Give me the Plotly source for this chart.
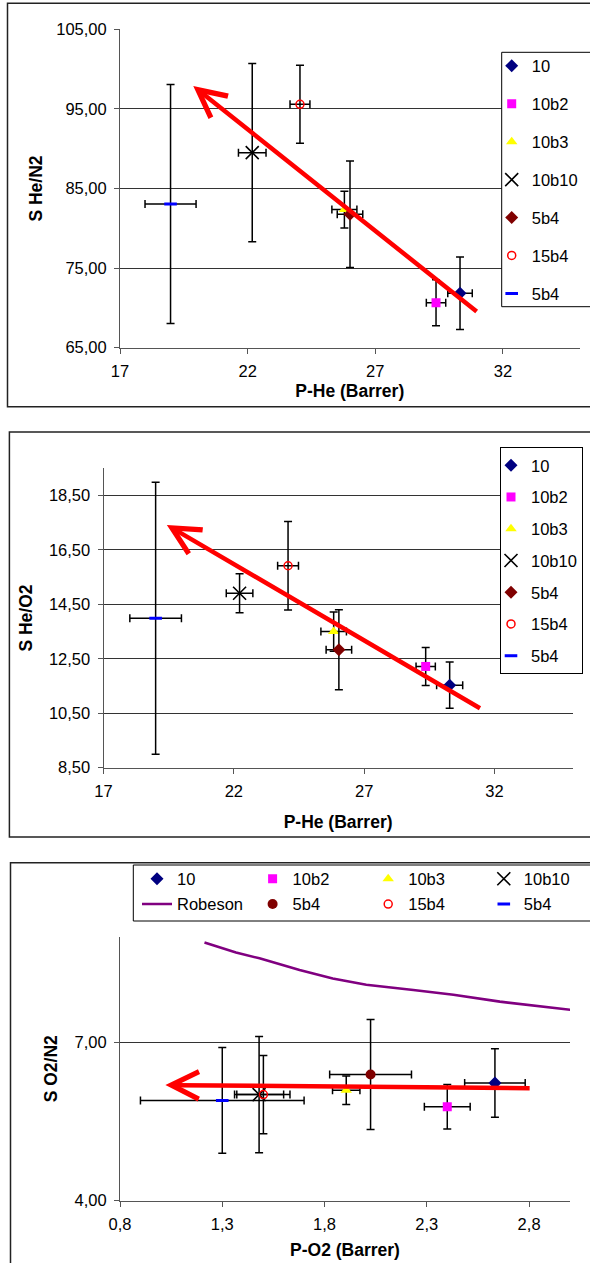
import plotly.graph_objects as go

W, H = 590, 1263
FONT = "Liberation Sans, Arial, sans-serif"

# ---------------- data ----------------
series_names = ["10", "10b2", "10b3", "10b10", "5b4", "15b4", "5b4"]

# Panel 1: S He/N2 vs P-He (Barrer)
he_n2_x = [30.32, 29.38, 25.79, 22.18, 26.01, 24.05, 18.98]
he_n2_y = [71.83, 70.65, 82.35, 89.50, 81.76, 95.58, 83.05]
he_n2_xerr = [0.48, 0.38, 0.49, 0.54, 0.50, 0.39, 1.00]
he_n2_yerr = [4.55, 2.90, 2.30, 11.20, 6.70, 4.90, 15.00]
he_n2_arrow_x = [31.03, 19.87]   # tail, head
he_n2_arrow_y = [69.40, 97.87]

# Panel 2: S He/O2 vs P-He (Barrer)
he_o2_x = [30.28, 29.36, 25.83, 22.22, 26.03, 24.08, 19.00]
he_o2_y = [11.53, 12.22, 13.50, 14.91, 12.83, 15.92, 13.99]
he_o2_xerr = [0.50, 0.37, 0.49, 0.51, 0.49, 0.40, 0.99]
he_o2_yerr = [0.85, 0.70, 0.72, 0.72, 1.47, 1.63, 5.00]
he_o2_arrow_x = [31.50, 19.43]
he_o2_arrow_y = [10.65, 17.42]

# Panel 3: S O2/N2 vs P-O2 (Barrer)
o2_n2_x = [2.633, 2.40, 1.906, 1.48, 2.025, 1.501, 1.30]
o2_n2_y = [6.23, 5.78, 6.09, 6.01, 6.39, 6.01, 5.90]
o2_n2_xerr = [0.148, 0.112, 0.067, 0.12, 0.20, 0.13, 0.40]
o2_n2_yerr = [0.65, 0.42, 0.27, 1.10, 1.04, 0.74, 1.00]
o2_n2_arrow_x = [2.81, 1.022]
o2_n2_arrow_y = [6.13, 6.19]

robeson_x = [1.213, 1.367, 1.482, 1.678, 1.84, 2.004, 2.234, 2.43, 2.657, 2.852, 3.035]
robeson_y = [8.89, 8.70, 8.59, 8.37, 8.21, 8.09, 7.99, 7.90, 7.77, 7.69, 7.60]

# tick values
p1_xticks = [17, 22, 27, 32]
p1_yticks = [65, 75, 85, 95, 105]
p2_xticks = [17, 22, 27, 32]
p2_yticks = [8.5, 10.5, 12.5, 14.5, 16.5, 18.5]
p3_xticks = [0.8, 1.3, 1.8, 2.3, 2.8]
p3_yticks = [4.0, 7.0]

# ---------------- styles ----------------
def marker_style(i, panel):
    if i == 0:
        return dict(symbol="diamond", color="#000080", size=10)
    if i == 1:
        return dict(symbol="square", color="#FF00FF", size=9)
    if i == 2:
        return dict(symbol="triangle-up", color="#FFFF00", size=10)
    if i == 3:
        return dict(symbol="x-thin", color="#000000", size=13,
                    line=dict(width=1.6, color="#000000"))
    if i == 4:
        return dict(symbol="circle" if panel == 3 else "diamond", color="#800000", size=10)
    if i == 5:
        return dict(symbol="circle-open", color="#FF0000", size=8,
                    line=dict(width=1.5, color="#FF0000"))
    return dict(symbol="line-ew", color="#0000FF", size=9,
                line=dict(width=3, color="#0000FF"))


fig = go.Figure()

panels = [
    (1, "x", "y", "legend", he_n2_x, he_n2_y, he_n2_xerr, he_n2_yerr),
    (2, "x2", "y2", "legend2", he_o2_x, he_o2_y, he_o2_xerr, he_o2_yerr),
    (3, "x3", "y3", "legend3", o2_n2_x, o2_n2_y, o2_n2_xerr, o2_n2_yerr),
]

for panel, xa, ya, leg, xs, ys, xe, ye in panels:
    for i, name in enumerate(series_names):
        if panel == 3:
            # panel 3 legend is laid out in two rows of four entries
            leg = "legend3" if i < 4 else "legend4"
        if panel == 3 and i == 4:
            fig.add_trace(go.Scatter(
                x=robeson_x, y=robeson_y, mode="lines", name="Robeson",
                line=dict(color="#800080", width=2.6),
                xaxis=xa, yaxis=ya, legend="legend4"))
        group = dict(legendgroup=f"p{panel}g{i}") if panel != 3 else {}
        fig.add_trace(go.Scatter(
            x=[xs[i]], y=[ys[i]], mode="markers", name=name,
            marker=marker_style(i, panel),
            error_x=dict(type="data", array=[xe[i]], color="#000000", thickness=1.5, width=4),
            error_y=dict(type="data", array=[ye[i]], color="#000000", thickness=1.5, width=4),
            xaxis=xa, yaxis=ya, legend=leg, **group))

# trend arrows
arrows = [
    ("x", "y", he_n2_arrow_x, he_n2_arrow_y),
    ("x2", "y2", he_o2_arrow_x, he_o2_arrow_y),
    ("x3", "y3", o2_n2_arrow_x, o2_n2_arrow_y),
]
annotations = []
for xa, ya, ax_, ay_ in arrows:
    annotations.append(dict(
        xref=xa, yref=ya, axref=xa, ayref=ya,
        x=ax_[1], y=ay_[1], ax=ax_[0], ay=ay_[0],
        text="", showarrow=True, arrowhead=5, arrowsize=1.2,
        arrowwidth=4.5, arrowcolor="#FF0000"))

def px_x(p):
    return p / W

def px_y(p):
    return 1 - p / H

tick_font = dict(family=FONT, size=16.5, color="#000000")
title_font = dict(family=FONT, size=17.5, color="#000000")

def xaxis(domain, rng, ticks, fmt, title, anchor, standoff):
    return dict(domain=domain, range=rng, tickvals=ticks, tickformat=fmt,
                showgrid=False, zeroline=False, showline=True, linecolor="#555555",
                linewidth=1, ticks="outside", ticklen=5, tickcolor="#555555",
                tickfont=tick_font, anchor=anchor, ticklabelstandoff=3,
                title=dict(text=f"<b>{title}</b>", font=title_font, standoff=standoff))

def yaxis(domain, rng, ticks, fmt, title, anchor, standoff):
    return dict(domain=domain, range=rng, tickvals=ticks, tickformat=fmt,
                showgrid=True, gridcolor="#333333", gridwidth=1, zeroline=False,
                showline=True, linecolor="#555555", linewidth=1, ticks="outside",
                ticklen=5, tickcolor="#555555", tickfont=tick_font, anchor=anchor,
                ticklabelstandoff=4,
                title=dict(text=f"<b>{title}</b>", font=title_font, standoff=standoff))

legend_font = dict(family=FONT, size=16.5, color="#000000")

def row_legend(top_px):
    return dict(x=px_x(137), y=px_y(top_px), xanchor="left", yanchor="top",
                orientation="h", borderwidth=0, bgcolor="rgba(0,0,0,0)",
                font=legend_font, traceorder="normal",
                entrywidth=70.6, entrywidthmode="pixels", itemwidth=30)

layout = dict(
    width=W, height=H,
    margin=dict(l=0, r=0, t=0, b=0, autoexpand=False),
    paper_bgcolor="white", plot_bgcolor="white",
    separators=",.",
    font=dict(family=FONT, color="#000000"),
    xaxis=xaxis([px_x(120), px_x(579.5)], [17, 35], p1_xticks, "d", "P-He (Barrer)", "y", 6),
    yaxis=yaxis([px_y(347.7), px_y(29.3)], [65, 105], p1_yticks, ".2f", "S He/N2", "x", 9),
    xaxis2=xaxis([px_x(103.5), px_x(572.7)], [17, 35], p2_xticks, "d", "P-He (Barrer)", "y2", 17),
    yaxis2=yaxis([px_y(767.7), px_y(468.3)], [8.5, 19.5], p2_yticks, ".2f", "S He/O2", "x2", 11),
    xaxis3=xaxis([px_x(120), px_x(570)], [0.8, 3.0], p3_xticks, ".1f", "P-O2 (Barrer)", "y3", 12),
    yaxis3=yaxis([px_y(1200.7), px_y(936.7)], [4, 9], p3_yticks, ".2f", "S O2/N2", "x3", 12),
    legend=dict(x=px_x(501.7), y=px_y(48.5), xanchor="left", yanchor="top",
                borderwidth=0, bgcolor="rgba(0,0,0,0)",
                font=legend_font, traceorder="grouped", indentation=-10,
                tracegroupgap=13.5, itemwidth=30),
    legend2=dict(x=px_x(500), y=px_y(447), xanchor="left", yanchor="top",
                 bordercolor="#000000", borderwidth=1, bgcolor="white",
                 font=legend_font, traceorder="grouped", indentation=-10,
                 tracegroupgap=7.3, itemwidth=30),
    legend3=row_legend(861.5),
    legend4=row_legend(886.8),
    annotations=annotations,
    shapes=[
        dict(type="rect", xref="paper", yref="paper", x0=px_x(7.5), x1=1.05,
             y0=px_y(406.7), y1=px_y(3.3), line=dict(color="#222222", width=1.5)),
        dict(type="rect", xref="paper", yref="paper", x0=px_x(9.4), x1=1.05,
             y0=px_y(837), y1=px_y(432), line=dict(color="#222222", width=1.5)),
        dict(type="rect", xref="paper", yref="paper", x0=px_x(10.5), x1=1.05,
             y0=-0.05, y1=px_y(862.7), line=dict(color="#222222", width=1.5)),
        # box around the legend of panel 1 (runs past the right edge)
        dict(type="rect", xref="paper", yref="paper", x0=px_x(501.7), x1=1.05,
             y0=px_y(306.7), y1=px_y(52.3), line=dict(color="#000000", width=1),
             fillcolor="white", layer="above"),
        # box around the two-row legend of panel 3
        dict(type="rect", xref="paper", yref="paper", x0=px_x(133.3), x1=1.05,
             y0=px_y(921), y1=px_y(865), line=dict(color="#000000", width=1),
             layer="above"),
    ],
    showlegend=True,
)
fig.update_layout(**layout)
fig.write_html(
    "out.html",
    config={"displayModeBar": False},
    post_script="document.body.style.margin='0px';document.body.style.overflow='hidden';",
)
